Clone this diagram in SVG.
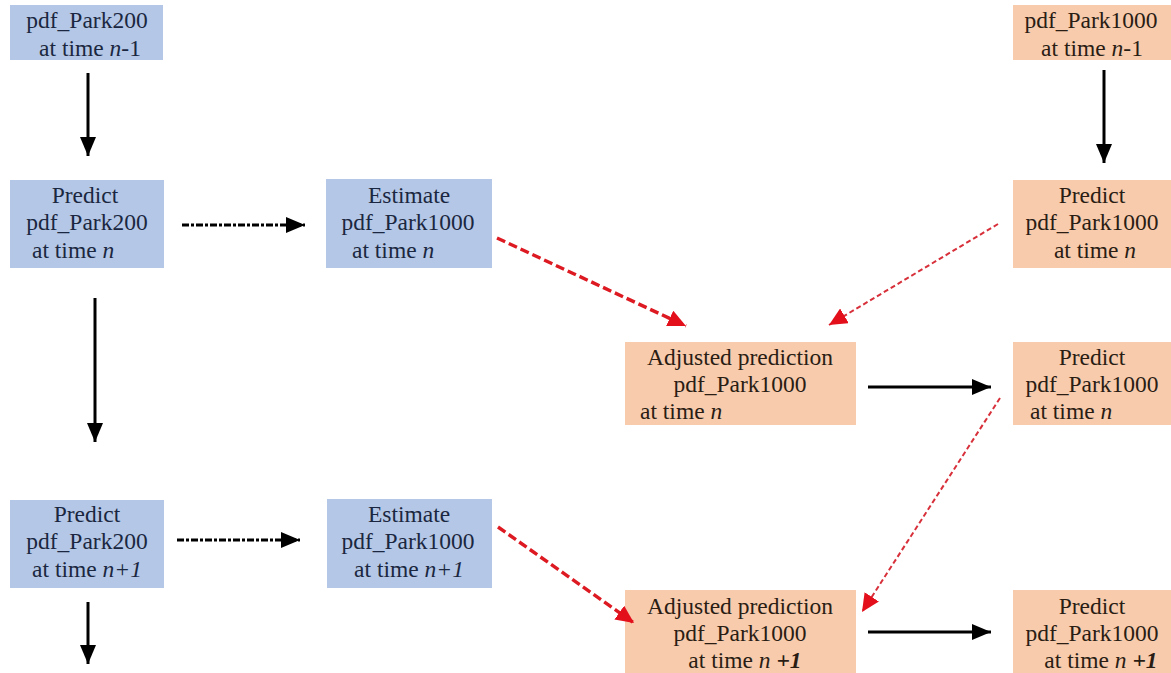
<svg xmlns="http://www.w3.org/2000/svg" width="1171" height="673" viewBox="0 0 1171 673">
<style>
.blue{fill:#b4c7e7}
.peach{fill:#f8cbad}
text{font-family:"Liberation Serif","DejaVu Serif",serif;font-size:23.5px;text-anchor:middle}
.tb{fill:#1b2740}
.tp{fill:#2a1d14}
.st{stroke:#000;stroke-width:3;fill:none}
.dd{stroke:#000;stroke-width:3;fill:none;stroke-dasharray:7 2 3 2}
.rd{stroke:#dd1a22;stroke-width:3.4;fill:none;stroke-dasharray:9 4}
.rt{stroke:#d8303a;stroke-width:2;fill:none;stroke-dasharray:5 3}
</style>
<defs>
<marker id="ab" markerUnits="userSpaceOnUse" markerWidth="20" markerHeight="16" refX="19" refY="8" orient="auto"><path d="M0,0 L19,8 L0,16 z" fill="#000"/></marker>
<marker id="ar" markerUnits="userSpaceOnUse" markerWidth="19" markerHeight="17" refX="18" refY="8.5" orient="auto"><path d="M0,0 L18,8.5 L0,17 z" fill="#e3101c"/></marker>
</defs>
<rect width="1171" height="673" fill="#fff"/>
<g id="n1"><rect class="blue" x="10" y="5" width="153" height="55"/><text class="tb" x="87" y="28">pdf_Park200</text><text class="tb" x="90" y="56">at time <tspan font-style="italic">n</tspan>-1</text></g>
<g id="n2"><rect class="blue" x="10" y="180" width="154" height="88"/><text class="tb" x="85" y="203">Predict</text><text class="tb" x="87" y="230">pdf_Park200</text><text class="tb" x="32" y="258" style="text-anchor:start">at time <tspan font-style="italic">n</tspan></text></g>
<g id="n3"><rect class="blue" x="326" y="179" width="166" height="89"/><text class="tb" x="409" y="203">Estimate</text><text class="tb" x="408" y="230">pdf_Park1000</text><text class="tb" x="352" y="258" style="text-anchor:start">at time <tspan font-style="italic">n</tspan></text></g>
<g id="n4"><rect class="peach" x="1013" y="5" width="158" height="55"/><text class="tp" x="1091" y="28">pdf_Park1000</text><text class="tp" x="1092" y="56">at time <tspan font-style="italic">n</tspan>-1</text></g>
<g id="n5"><rect class="peach" x="1013" y="180" width="158" height="88"/><text class="tp" x="1092" y="203">Predict</text><text class="tp" x="1092" y="230">pdf_Park1000</text><text class="tp" x="1095" y="258">at time <tspan font-style="italic">n</tspan></text></g>
<g id="n6"><rect class="peach" x="625" y="342" width="231" height="83"/><text class="tp" x="740" y="365">Adjusted prediction</text><text class="tp" x="740" y="392">pdf_Park1000</text><text class="tp" x="640" y="419" style="text-anchor:start">at time <tspan font-style="italic">n</tspan></text></g>
<g id="n7"><rect class="peach" x="1013" y="342" width="158" height="83"/><text class="tp" x="1092" y="365">Predict</text><text class="tp" x="1092" y="392">pdf_Park1000</text><text class="tp" x="1030" y="419" style="text-anchor:start">at time <tspan font-style="italic">n</tspan></text></g>
<g id="n8"><rect class="blue" x="10" y="500" width="154" height="88"/><text class="tb" x="87" y="522">Predict</text><text class="tb" x="87" y="549">pdf_Park200</text><text class="tb" x="87" y="577">at time <tspan font-style="italic">n+1</tspan></text></g>
<g id="n9"><rect class="blue" x="327" y="499" width="165" height="89"/><text class="tb" x="409" y="522">Estimate</text><text class="tb" x="408" y="549">pdf_Park1000</text><text class="tb" x="409" y="577">at time <tspan font-style="italic">n+1</tspan></text></g>
<g id="n10"><rect class="peach" x="625" y="590" width="231" height="83"/><text class="tp" x="740" y="614">Adjusted prediction</text><text class="tp" x="740" y="641">pdf_Park1000</text><text class="tp" x="745" y="668">at time <tspan font-style="italic">n</tspan> <tspan font-style="italic" font-weight="bold">+1</tspan></text></g>
<g id="n11"><rect class="peach" x="1013" y="590" width="158" height="83"/><text class="tp" x="1092" y="614">Predict</text><text class="tp" x="1092" y="641">pdf_Park1000</text><text class="tp" x="1101" y="668">at time <tspan font-style="italic">n</tspan> <tspan font-style="italic" font-weight="bold">+1</tspan></text></g>
<g id="connectors">
<line class="st" x1="88" y1="73" x2="88" y2="156" marker-end="url(#ab)"/>
<line class="st" x1="95" y1="298" x2="95" y2="442" marker-end="url(#ab)"/>
<line class="st" x1="88" y1="602" x2="88" y2="664" marker-end="url(#ab)"/>
<line class="st" x1="1104" y1="70" x2="1104" y2="163" marker-end="url(#ab)"/>
<line class="dd" x1="182" y1="225" x2="305" y2="225" marker-end="url(#ab)"/>
<line class="dd" x1="177" y1="540" x2="300" y2="540" marker-end="url(#ab)"/>
<line class="st" x1="868" y1="387" x2="991" y2="387" marker-end="url(#ab)"/>
<line class="st" x1="868" y1="632" x2="991" y2="632" marker-end="url(#ab)"/>
<line class="rd" x1="497" y1="238" x2="686" y2="326" marker-end="url(#ar)"/>
<line class="rd" x1="498" y1="527" x2="634" y2="623" marker-end="url(#ar)"/>
<line class="rt" x1="998" y1="224" x2="829" y2="325" marker-end="url(#ar)"/>
<line class="rt" x1="1000" y1="398" x2="862" y2="612" marker-end="url(#ar)"/>
</g>
</svg>
